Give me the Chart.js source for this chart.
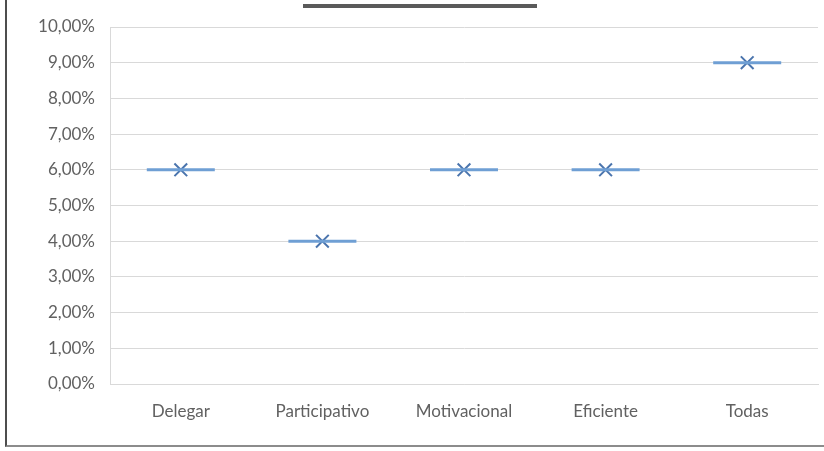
<!DOCTYPE html>
<html>
<head>
<meta charset="utf-8">
<script src="https://cdn.jsdelivr.net/npm/chart.js@4/dist/chart.umd.min.js"></script>
<style>
  html, body { margin: 0; padding: 0; background: #fff; }
  #frame { position: absolute; left: 5px; top: 0; width: 819px; height: 445px;
           border-left: 2px solid #4d4d4d; border-bottom: 2px solid #8c8c8c; }
  #wrap { position: absolute; left: 0; top: 0; width: 824px; height: 451px; }
</style>
</head>
<body>
<div id="frame"></div>
<div id="wrap"><canvas id="c" width="824" height="451"></canvas></div>
<script>
// Share of respondents choosing each leadership style (%)
const categories = ['Delegar', 'Participativo', 'Motivacional', 'Eficiente', 'Todas'];
const percentValues = [6, 4, 6, 6, 9];
const yTicks = [0, 1, 2, 3, 4, 5, 6, 7, 8, 9, 10];

const fmt = v => v.toFixed(2).replace('.', ',') + '%';

// Thin dark bar across the top of the chart
const topBar = {
  id: 'topBar',
  afterDraw(chart) {
    const ctx = chart.ctx;
    ctx.save();
    ctx.fillStyle = '#5a5a5a';
    ctx.fillRect(303, 4, 234, 4);
    ctx.restore();
  }
};

new Chart(document.getElementById('c'), {
  type: 'line',
  data: {
    labels: categories,
    datasets: [
      {
        data: percentValues,
        showLine: false,
        pointStyle: 'line',
        pointRadius: 34,
        pointHoverRadius: 34,
        pointBorderWidth: 3,
        borderColor: '#6f9fd4',
        backgroundColor: '#6f9fd4'
      },
      {
        data: percentValues,
        showLine: false,
        pointStyle: 'crossRot',
        pointRadius: 9,
        pointHoverRadius: 9,
        pointBorderWidth: 2,
        borderColor: '#4a74ad',
        backgroundColor: '#4a74ad'
      }
    ]
  },
  options: {
    responsive: false,
    animation: false,
    events: [],
    layout: { autoPadding: false, padding: { left: 0, right: 6, top: 27, bottom: 0 } },
    plugins: { legend: { display: false }, tooltip: { enabled: false } },
    scales: {
      x: {
        offset: true,
        afterFit(scale) { scale.height = 67; },
        grid: { display: false, drawTicks: false },
        border: { display: true, color: '#d9d9d9' },
        ticks: { color: '#616161', font: { family: 'Lato', size: 17 }, padding: 17, maxRotation: 0 }
      },
      y: {
        min: 0,
        max: 10,
        afterFit(scale) { scale.width = 110; },
        afterBuildTicks(scale) { scale.ticks = yTicks.map(v => ({ value: v })); },
        grid: { color: '#d9d9d9', lineWidth: 1, drawTicks: false },
        border: { display: true, color: '#d9d9d9' },
        ticks: {
          color: '#616161',
          font: { family: 'Lato', size: 17 },
          padding: 15,
          callback: v => fmt(v)
        }
      }
    }
  },
  plugins: [topBar]
});
</script>
</body>
</html>
